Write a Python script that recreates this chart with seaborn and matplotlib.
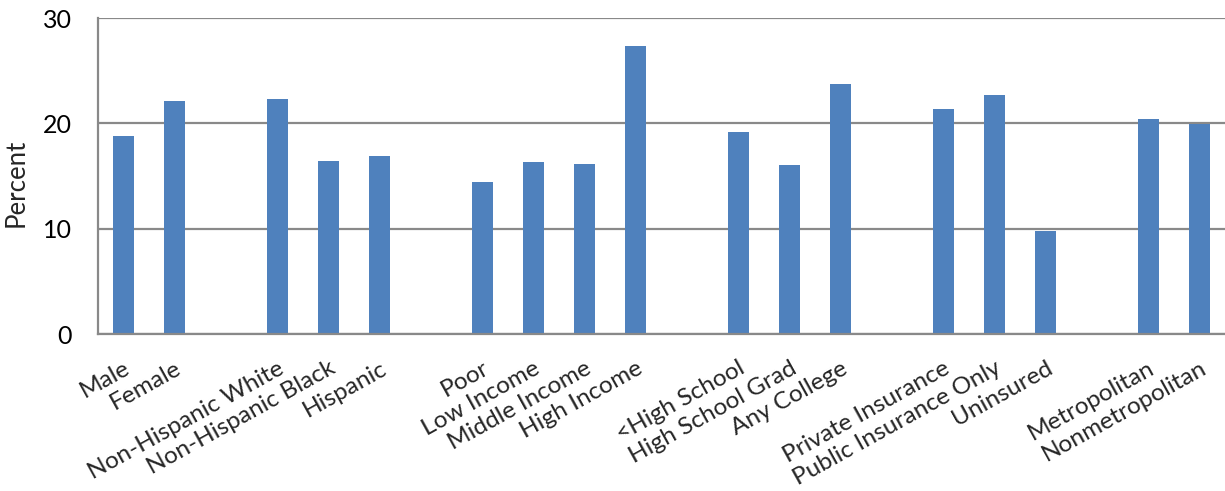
import numpy as np
import pandas as pd
import matplotlib
matplotlib.use("Agg")
import matplotlib.pyplot as plt
import seaborn as sns

# Categories in display order; blank strings leave a gap between groups
categories = [
    "Male", "Female", "",
    "Non-Hispanic White", "Non-Hispanic Black", "Hispanic", " ",
    "Poor", "Low Income", "Middle Income", "High Income", "  ",
    "<High School", "High School Grad", "Any College", "   ",
    "Private Insurance", "Public Insurance Only", "Uninsured", "    ",
    "Metropolitan", "Nonmetropolitan",
]
groups = [
    "Male", "Female",
    "Non-Hispanic White", "Non-Hispanic Black", "Hispanic",
    "Poor", "Low Income", "Middle Income", "High Income",
    "<High School", "High School Grad", "Any College",
    "Private Insurance", "Public Insurance Only", "Uninsured",
    "Metropolitan", "Nonmetropolitan",
]
percent = [
    18.8, 22.1,
    22.3, 16.4, 16.9,
    14.4, 16.3, 16.1, 27.3,
    19.2, 16.0, 23.7,
    21.4, 22.7, 9.8,
    20.4, 19.9,
]
y_ticks = [0, 10, 20, 30]

df = pd.DataFrame({"group": groups, "percent": percent})

sns.set_style("white")
plt.rcParams["font.family"] = ["Lato", "DejaVu Sans"]

grid_color = "#898989"
bar_color = "#4F81BD"

fig = plt.figure(figsize=(12.25, 4.91), dpi=100)
ax = fig.add_axes([98 / 1225, 1 - 334 / 491, 1 - 98 / 1225, (334 - 18) / 491])

sns.barplot(data=df, x="group", y="percent", order=categories, color=bar_color,
            saturation=1, width=0.41, edgecolor="none", ax=ax, errorbar=None)

ax.set_ylim(0, 30)
ax.set_yticks(y_ticks)
ax.set_xlim(-0.5, len(categories) - 0.5)
ax.yaxis.grid(True, color=grid_color, linewidth=1.6)
ax.set_axisbelow(True)

for side in ("top", "right"):
    ax.spines[side].set_visible(False)
for side in ("left", "bottom"):
    ax.spines[side].set_color(grid_color)
    ax.spines[side].set_linewidth(1.6)

ax.tick_params(axis="y", length=6, width=1.6, color=grid_color, pad=13,
               labelsize=18, labelcolor="black")

ax.set_xticks(range(len(categories)))
ax.set_xticklabels(categories, rotation=29, ha="right", va="top",
                   rotation_mode="anchor", fontsize=17.6)
ax.tick_params(axis="x", which="major", length=0, pad=17)
ax.set_xticks(np.arange(-0.5, len(categories)), minor=True)
ax.tick_params(axis="x", which="minor", length=6, width=1.6, color=grid_color)

ax.set_xlabel("")
ax.set_ylabel("Percent", fontsize=18.5)
ax.yaxis.set_label_coords(-0.062, 0.478)

fig.savefig("out.png", dpi=100)
